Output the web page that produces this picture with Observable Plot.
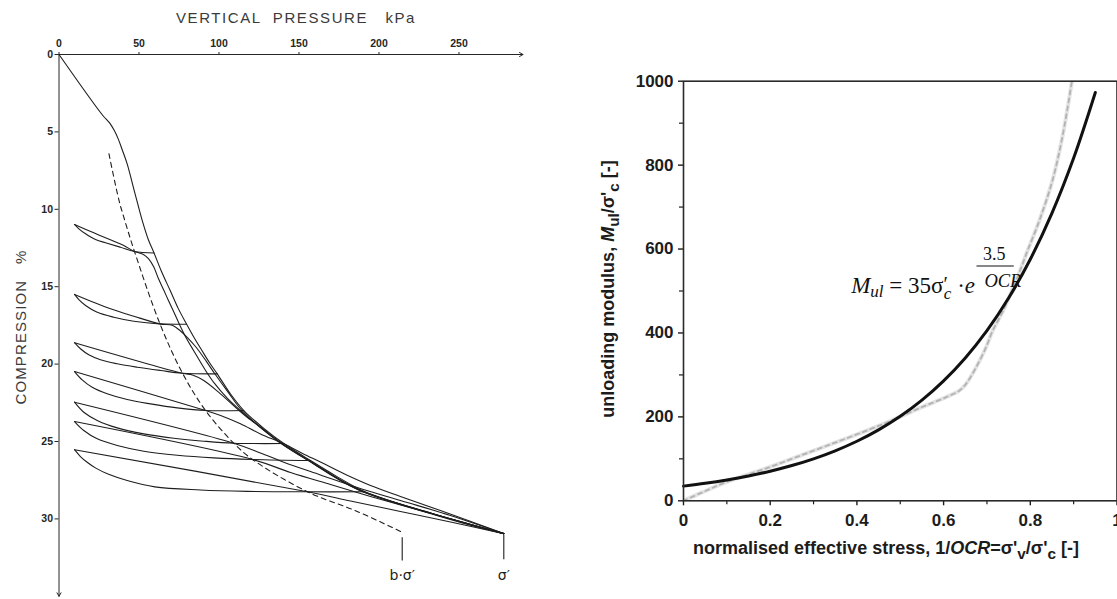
<!DOCTYPE html>
<html>
<head>
<meta charset="utf-8">
<script src="https://cdn.jsdelivr.net/npm/d3@7"></script>
<script src="https://cdn.jsdelivr.net/npm/@observablehq/plot@0.6"></script>
<style>
  html, body { margin: 0; padding: 0; background: #fff; }
  #page { position: relative; width: 1117px; height: 599px; overflow: hidden; background: #fff; }
  #left { position: absolute; left: 0; top: 0; }
  #right { position: absolute; left: 560px; top: 0; }
  .lbl { position: absolute; white-space: pre; transform: translate(-50%, -50%); line-height: 1; }
  .rot { transform: translate(-50%, -50%) rotate(-90deg); }
  .draft { font-family: "Liberation Sans", Arial, sans-serif; font-size: 15px; color: #3a3a3a; }
  .bold { font-family: "Liberation Sans", Arial, sans-serif; font-size: 18px; font-weight: bold; color: #1c1c1c; }
  .bold sub { font-size: 0.85em; vertical-align: -0.3em; line-height: 0; }
</style>
</head>
<body>
<div id="page">
  <div id="left"></div>
  <div id="right"></div>
  <div class="lbl draft" id="ltitle" style="left:296px; top:17px; letter-spacing:1.6px;">VERTICAL  PRESSURE   kPa</div>
  <div class="lbl draft rot" id="lylabel" style="left:20px; top:327px; letter-spacing:1.1px;">COMPRESSION   %</div>
  <div class="lbl bold" id="rxlabel" style="left:886px; top:548px;">normalised effective stress, 1/<i>OCR</i>=σ'<sub>v</sub>/σ'<sub>c</sub> [-]</div>
  <div class="lbl bold rot" id="rylabel" style="left:608px; top:289px;">unloading modulus, <i>M</i><sub>ul</sub>/σ'<sub>c</sub> [-]</div>
</div>
<script>
// ---------- Oedometer test: vertical pressure (kPa) vs compression (%) ----------
const pressureTicks = [0, 50, 100, 150, 200, 250];
const compressionTicks = [0, 5, 10, 15, 20, 25, 30];
const pressureExtent = [0, 290];
const compressionExtent = [0, 35];

// virgin loading curve
const virgin = [[0,0],[27.4,3.94],[31.5,4.4],[34.5,4.9],[37,5.45],[39.5,6.15],[42.6,7.06],[47.3,8.9],[52,10.72],[55.8,11.95],[59.4,12.82],[64,14.0],[69.5,15.25],[74.5,16.4],[79.7,17.41],[84.5,18.3],[89.3,19.12],[94,19.9],[98.9,20.63],[107,21.9],[115.5,23.0],[128,24.15],[140.5,25.13],[157.2,26.23],[173,27.22],[190.5,28.22],[210,28.95],[234,29.72],[256,30.38],[278,30.95]];

// unload/reload loops: the upper branch runs on as the reloading curve,
// the lower branch closes the loop and ends in the horizontal step
const upper1 = [[9.7,10.98],[21.75,11.52],[33.25,12.02],[40.5,12.34],[47.2,12.73],[52.2,12.89],[55.9,13.18],[59.1,13.7],[62.2,14.49],[65.6,15.25],[68.4,15.89],[72.2,16.73],[75.9,17.57],[79.7,18.35],[84.1,19.12],[91.6,20.41],[97.2,21.25],[105.3,22.22],[113.4,23.0],[137.2,25.0],[154.1,26.1],[185.9,28.04],[232.2,29.62],[278,30.95]];
const lower1 = [[9.7,10.98],[12.4,11.26],[16.6,11.58],[22.8,11.95],[30.1,12.19],[38.4,12.45],[47.2,12.73],[59.4,12.82]];
const upper2 = [[9.7,15.5],[32.2,16.43],[46.75,16.91],[63.1,17.4],[71.1,17.51],[75.6,17.83],[80.1,18.27],[85.7,18.91],[92.2,19.84],[97.5,20.64],[105.9,21.84],[114.4,23.0],[137.8,25.06],[154.7,26.16],[186.6,28.1],[232.8,29.64],[278,30.95]];
const lower2 = [[9.7,15.5],[12.4,15.83],[16.6,16.21],[23.9,16.65],[34.25,16.97],[46.75,17.23],[63.1,17.4],[79.7,17.43]];
const upper3 = [[9.7,18.62],[77.2,20.59],[83.4,20.7],[90.5,21.06],[100.9,21.92],[111.4,22.89],[117.6,23.43],[127.2,24.16],[139.7,25.16],[156.6,26.26],[189.1,28.2],[234.1,29.68],[278,30.95]];
const lower3 = [[9.7,18.62],[13.4,19.01],[18.6,19.4],[25.9,19.72],[36.4,19.98],[48.9,20.2],[63.4,20.41],[77.2,20.59],[98.9,20.63]];
const upper4 = [[9.7,20.48],[91.6,23.0],[101,23.32],[113.4,23.86],[125.9,24.51],[140.5,25.15],[152.2,25.77],[163.4,26.33],[179.1,27.13],[194.7,27.84],[213.4,28.55],[238.4,29.46],[278,30.95]];
const lower4 = [[9.7,20.48],[14.5,21.02],[20.75,21.5],[30.1,21.92],[42.6,22.29],[57.2,22.57],[73.9,22.83],[91.6,23.0],[115.5,23.0]];
const upper5 = [[9.7,22.46],[109.25,25.11],[125.9,25.74],[140.5,26.34],[163.4,27.16],[186.4,27.97],[213.4,28.81],[244.7,29.78],[278,30.95]];
const lower5 = [[9.7,22.46],[15.5,23.11],[23.9,23.64],[36.4,24.12],[53,24.51],[71.75,24.79],[90.5,24.98],[109.25,25.11],[140.5,25.13]];
const upper6 = [[9.7,23.71],[120.9,26.16],[144.7,27.0],[169.7,27.78],[194.7,28.55],[225.9,29.46],[250.9,30.17],[278,30.95]];
const lower6 = [[9.7,23.71],[15.5,24.29],[23.9,24.83],[36.4,25.26],[53,25.63],[73.9,25.89],[96.75,26.06],[120.9,26.16],[157.2,26.23]];
const upper7 = [[9.7,25.53],[155.3,28.25],[182.2,28.84],[213.4,29.52],[244.7,30.2],[278,30.95]];
const lower7 = [[9.7,25.53],[13.4,25.97],[17.6,26.34],[23,26.72],[31,27.12],[42.6,27.52],[59.9,27.93],[88.4,28.13],[117.6,28.22],[155.3,28.25],[190.5,28.25]];

// dashed b·σ' line through the loop crossings
const crossingLine = [[31.2,6.41],[37.5,9.43],[40.5,10.51],[47.2,12.73],[63.1,17.4],[77.2,20.59],[91.6,23.0],[109.25,25.11],[120.9,26.16],[155.3,28.25],[186,29.5],[214.5,30.86]];

// stress markers below the curves
const markerPressure = [214.5, 278];
const markerLabels = ["b·σ′", "σ′"];
const markerTop = [31.18, 31.0];
const markerBottom = [32.69, 32.6];

// ---------- Unloading modulus vs normalised effective stress ----------
const stressTicks = [0, 0.2, 0.4, 0.6, 0.8, 1];
const stressMinor = [0.1, 0.3, 0.5, 0.7, 0.9];
const modulusTicks = [0, 200, 400, 600, 800, 1000];
const modulusMinor = [100, 300, 500, 700, 900];

// fitted curve M_ul = 35 σ'c · e^(3.5/OCR)
const fitStress = [0, 0.05, 0.1, 0.15, 0.2, 0.25, 0.3, 0.35, 0.4, 0.45, 0.5, 0.55, 0.6, 0.65, 0.7, 0.75, 0.8, 0.85, 0.9, 0.95];
const fitModulus = [35, 41.7, 49.7, 59.2, 70.5, 84.0, 100.0, 119.1, 141.9, 169.1, 201.4, 239.9, 285.8, 340.5, 405.6, 483.2, 575.6, 685.6, 816.8, 973.0];

// measured unloading modulus
const testStress = [0, 0.043, 0.097, 0.198, 0.291, 0.384, 0.47, 0.547, 0.606, 0.637, 0.652, 0.675, 0.698, 0.713, 0.736, 0.756, 0.775, 0.794, 0.821, 0.851, 0.874, 0.896];
const testModulus = [0, 20, 44, 80, 116, 152, 187, 222, 247, 263, 279, 318, 366, 405, 450, 497, 545, 597, 668, 763, 867, 1000];

// ---------- build tables ----------
const branches = [virgin, upper1, lower1, upper2, lower2, upper3, lower3, upper4, lower4, upper5, lower5, upper6, lower6, upper7, lower7];
const curveRows = branches.flatMap((pts, id) => pts.map(([p, c]) => ({p, c, id})));
const dashRows = crossingLine.map(([p, c]) => ({p, c}));
const markers = markerPressure.map((p, i) => ({p, label: markerLabels[i], top: markerTop[i], bottom: markerBottom[i]}));
const fitRows = fitStress.map((s, i) => ({s, m: fitModulus[i]}));
const testRows = testStress.map((s, i) => ({s, m: testModulus[i]}));

const ink = "#262626";

const left = Plot.plot({
  width: 560, height: 599,
  marginLeft: 58.5, marginRight: 37.5, marginTop: 54, marginBottom: 3.2,
  style: {fontFamily: "Liberation Sans, Arial, sans-serif", fontSize: "10.5px", color: ink, background: "transparent", overflow: "visible"},
  x: {domain: pressureExtent},
  y: {domain: compressionExtent, reverse: true},
  marks: [
    Plot.arrow([0], {x1: pressureExtent[0], y1: compressionExtent[0], x2: pressureExtent[1], y2: compressionExtent[0], stroke: ink, strokeWidth: 1, headLength: 6, bend: 0}),
    Plot.arrow([0], {x1: pressureExtent[0], y1: compressionExtent[0], x2: pressureExtent[0], y2: compressionExtent[1], stroke: ink, strokeWidth: 1, headLength: 6, bend: 0}),
    Plot.axisX(pressureTicks, {anchor: "top", tickSize: 3, tickPadding: 5, label: null, fontWeight: "bold"}),
    Plot.axisY(compressionTicks, {anchor: "left", tickSize: 4, tickPadding: 2, label: null, fontWeight: "bold"}),
    Plot.line(curveRows, {x: "p", y: "c", z: "id", curve: "catmull-rom", stroke: "#1e1e1e", strokeWidth: 1.1}),
    Plot.line(dashRows, {x: "p", y: "c", curve: "catmull-rom", stroke: "#1e1e1e", strokeWidth: 1.1, strokeDasharray: "5,4"}),
    Plot.link(markers, {x1: "p", x2: "p", y1: "top", y2: "bottom", stroke: "#1e1e1e", strokeWidth: 1.1}),
    Plot.text(markers, {x: "p", y: () => 33.66, text: "label", fontSize: 14, fontFamily: "DejaVu Sans, sans-serif", fill: "#1e1e1e"})
  ]
});
document.getElementById("left").appendChild(left);

const right = Plot.plot({
  width: 557, height: 599,
  marginLeft: 123, marginRight: 0.5, marginTop: 80.7, marginBottom: 98.7,
  style: {fontFamily: "Liberation Sans, Arial, sans-serif", fontSize: "17px", fontWeight: "bold", color: "#1c1c1c", background: "transparent", overflow: "visible"},
  x: {domain: [0, 1]},
  y: {domain: [0, 1000]},
  marks: [
    Plot.axisX(stressTicks, {tickSize: 5, tickPadding: 8, tickFormat: d => String(d), label: null, strokeWidth: 1.4}),
    Plot.axisX(stressMinor, {tickSize: 4, tickFormat: () => "", label: null, strokeWidth: 1.2}),
    Plot.axisY(modulusTicks, {tickSize: 5, tickPadding: 5, tickFormat: d => String(d), label: null, strokeWidth: 1.4}),
    Plot.axisY(modulusMinor, {tickSize: 4, tickFormat: () => "", label: null, strokeWidth: 1.2}),
    Plot.line(testRows, {x: "s", y: "m", curve: "catmull-rom", stroke: "#e3e3e3", strokeWidth: 4, clip: true}),
    Plot.line(testRows, {x: "s", y: "m", curve: "catmull-rom", stroke: "#b3b3b3", strokeWidth: 1.8, strokeDasharray: "4,4", clip: true}),
    Plot.line(fitRows, {x: "s", y: "m", curve: "catmull-rom", stroke: "#111", strokeWidth: 3}),
    Plot.frame({stroke: "#2a2a2a", strokeWidth: 1.6})
  ]
});
document.getElementById("right").appendChild(right);

// equation annotation placed through the plot's own scales
const sx = right.scale("x"), sy = right.scale("y");
const eq = d3.select(right).append("g")
  .attr("font-family", "Liberation Serif, Times New Roman, serif")
  .attr("font-weight", "normal")
  .attr("fill", "#111");
const main = eq.append("text").attr("x", sx.apply(0.388)).attr("y", sy.apply(493)).attr("font-size", 23).attr("text-anchor", "start");
main.append("tspan").attr("font-style", "italic").text("M");
main.append("tspan").attr("font-style", "italic").attr("font-size", 17).attr("dy", 4).text("ul");
main.append("tspan").attr("dy", -4).text(" = 35σ");
main.append("tspan").attr("font-size", 20).attr("dy", -2).text("′");
main.append("tspan").attr("font-style", "italic").attr("font-size", 17).attr("dx", -4).attr("dy", 8).text("c");
main.append("tspan").attr("dy", -6).text(" ·");
main.append("tspan").attr("font-style", "italic").text("e");
eq.append("text").attr("x", sx.apply(0.718)).attr("y", sy.apply(572.7)).attr("font-size", 18).attr("text-anchor", "middle").text("3.5");
eq.append("line")
  .attr("x1", sx.apply(0.677)).attr("x2", sx.apply(0.763))
  .attr("y1", sy.apply(558.4)).attr("y2", sy.apply(558.4))
  .attr("stroke", "#111").attr("stroke-width", 1.2);
eq.append("text").attr("x", sx.apply(0.738)).attr("y", sy.apply(509)).attr("font-size", 18.5).attr("font-style", "italic").attr("text-anchor", "middle").text("OCR");
</script>
</body>
</html>
